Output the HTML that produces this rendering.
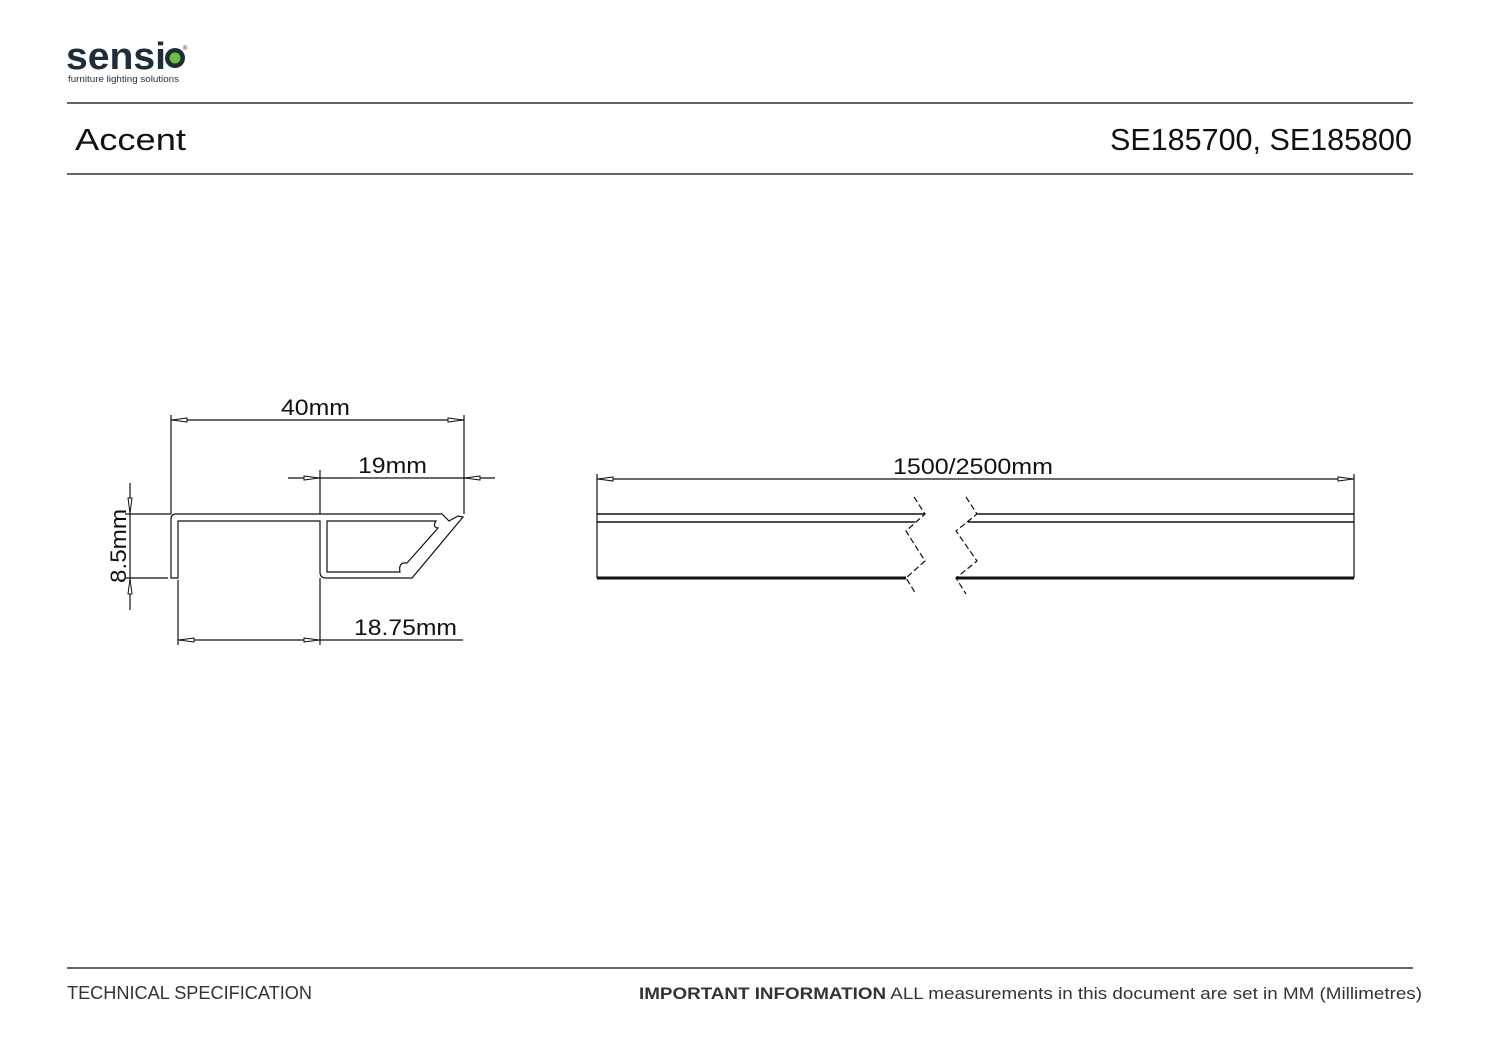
<!DOCTYPE html>
<html><head><style>
body{margin:0;background:#fff;width:1497px;height:1058px;overflow:hidden;font-family:"Liberation Sans",sans-serif}
</style></head><body>
<svg width="1497" height="1058" xmlns="http://www.w3.org/2000/svg" style="position:absolute;left:0;top:0">
<text x="66" y="69" font-family="Liberation Sans" font-weight="bold" font-size="38" fill="#1e2d3b" textLength="100" lengthAdjust="spacingAndGlyphs">sensi</text>
<circle cx="175" cy="58" r="10" fill="#1e2d3b"/><circle cx="175" cy="58" r="5.5" fill="#6dbf3d"/>
<text x="183" y="50" font-size="6" fill="#1e2d3b">®</text>
<text x="68" y="82" font-size="9" fill="#1e2d3b" textLength="111" lengthAdjust="spacingAndGlyphs">furniture lighting solutions</text>
<line x1="67" y1="103" x2="1413" y2="103" stroke="#333" stroke-width="1.5"/>
<line x1="67" y1="174" x2="1413" y2="174" stroke="#333" stroke-width="1.5"/>
<text x="75" y="150" font-size="31" fill="#111" textLength="111" lengthAdjust="spacingAndGlyphs">Accent</text>
<text x="1110" y="150" font-size="31" fill="#111" textLength="302" lengthAdjust="spacingAndGlyphs">SE185700, SE185800</text>
<line x1="67" y1="968" x2="1413" y2="968" stroke="#333" stroke-width="1.5"/>
<text x="67" y="999" font-size="18" fill="#333" textLength="245" lengthAdjust="spacingAndGlyphs">TECHNICAL SPECIFICATION</text>
<text x="639" y="999" font-size="17" fill="#333" textLength="783" lengthAdjust="spacingAndGlyphs"><tspan font-weight="bold">IMPORTANT INFORMATION</tspan> ALL measurements in this document are set in MM (Millimetres)</text>
<g fill="none" stroke="#111" stroke-width="1.2">
<path d="M171 578 L171 519 Q171 514 176 514 L442 514 L449 521 L458 516 L463 517 L412 578 L326 578 Q320 578 320 572 L320 521 L178 521 L178 578 Z"/>
<path d="M327 521 L436 521 Q432 527 438 528 L407 563 Q398 562 400 572 L327 572 Z"/>
<line x1="171" y1="514" x2="171" y2="415"/><line x1="464" y1="514" x2="464" y2="415"/>
<line x1="171" y1="420" x2="464" y2="420"/>
<line x1="320" y1="470" x2="320" y2="514"/><line x1="320" y1="578" x2="320" y2="645"/>
<line x1="288" y1="478" x2="495" y2="478"/>
<line x1="178" y1="580" x2="178" y2="645"/>
<line x1="178" y1="640" x2="463" y2="640"/>
<line x1="130" y1="483" x2="130" y2="610"/>
<line x1="125" y1="514" x2="171" y2="514"/><line x1="125" y1="578" x2="168" y2="578"/>
<line x1="597" y1="474" x2="597" y2="514"/><line x1="1354" y1="474" x2="1354" y2="514"/>
<line x1="597" y1="479" x2="1354" y2="479"/>
<line x1="597" y1="514" x2="597" y2="578"/><line x1="1354" y1="514" x2="1354" y2="578"/>
<line x1="597" y1="514" x2="925" y2="514" stroke-width="1.5"/><line x1="597" y1="522" x2="915" y2="522" stroke-width="1.5"/>
<line x1="977" y1="514" x2="1354" y2="514" stroke-width="1.5"/><line x1="968" y1="522" x2="1354" y2="522" stroke-width="1.5"/>
<line x1="597" y1="578" x2="906" y2="578" stroke-width="3"/><line x1="956" y1="578" x2="1354" y2="578" stroke-width="3"/>
<path d="M914 497 L925 514 L906 531 L925 561 L906 578 L916 594" stroke-dasharray="6 3"/>
<path d="M966 497 L977 514 L956 531 L977 561 L956 578 L966 594" stroke-dasharray="6 3"/>
</g>
<g fill="#fff" stroke="#111" stroke-width="1">
<path d="M172 420 L187 418 L187 422 Z"/><path d="M463 420 L448 418 L448 422 Z"/>
<path d="M319 478 L304 476 L304 480 Z"/><path d="M465 478 L480 476 L480 480 Z"/>
<path d="M179 640 L194 638 L194 642 Z"/><path d="M319 640 L304 638 L304 642 Z"/>
<path d="M130 513 L128 498 L132 498 Z"/><path d="M130 579 L128 594 L132 594 Z"/>
<path d="M598 479 L613 477 L613 481 Z"/><path d="M1353 479 L1338 477 L1338 481 Z"/>
</g>
<g font-size="22" fill="#111">
<text x="281" y="415" textLength="69" lengthAdjust="spacingAndGlyphs">40mm</text>
<text x="358" y="473" textLength="69" lengthAdjust="spacingAndGlyphs">19mm</text>
<text x="354" y="635" textLength="103" lengthAdjust="spacingAndGlyphs">18.75mm</text>
<text x="893" y="474" textLength="160" lengthAdjust="spacingAndGlyphs">1500/2500mm</text>
<text transform="translate(126,546) rotate(-90)" x="-37" textLength="74" lengthAdjust="spacingAndGlyphs">8.5mm</text>
</g>
</svg>
</body></html>
